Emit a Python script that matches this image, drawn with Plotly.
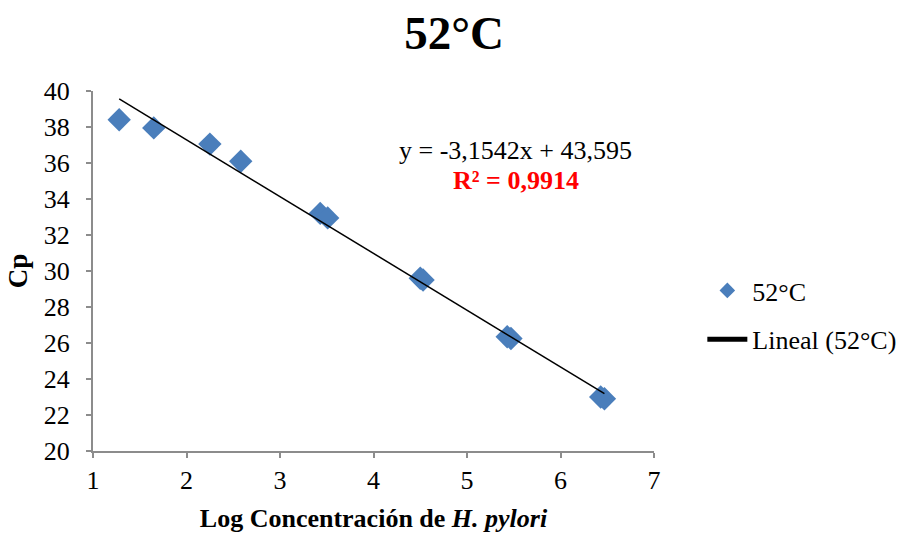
import plotly.graph_objects as go

# Data
log_conc = [1.28, 1.65, 2.25, 2.58, 3.43, 3.51, 4.50, 4.53, 5.43, 5.47, 6.43, 6.47]
cp_values = [38.4, 37.95, 37.05, 36.1, 33.2, 32.95, 29.6, 29.5, 26.35, 26.25, 23.0, 22.9]
slope = -3.1542
intercept = 43.595
eq_text = "y = -3,1542x + 43,595"
r2_text = "R² = 0,9914"
series_name = "52°C"
trend_name = "Lineal (52°C)"
x_ticks = [1, 2, 3, 4, 5, 6, 7]
y_ticks = [20, 22, 24, 26, 28, 30, 32, 34, 36, 38, 40]

FONT = "Liberation Serif, Times New Roman, serif"

x_min, x_max = min(log_conc), max(log_conc)
trend_x = [x_min, x_max]
trend_y = [slope * v + intercept for v in trend_x]

fig = go.Figure()
fig.add_trace(go.Scatter(
    x=log_conc, y=cp_values, mode="markers", name=series_name, legendgroup="a",
    marker=dict(symbol="diamond", size=18, color="#4a7ebb", line=dict(width=0)),
))
fig.add_trace(go.Scatter(
    x=trend_x, y=trend_y, mode="lines", name=trend_name, legendgroup="b",
    line=dict(color="black", width=1.5),
))

fig.add_annotation(x=5.52, y=36.7, xref="x", yref="y", text=eq_text, showarrow=False,
                   font=dict(family=FONT, size=26, color="black"), yanchor="middle")
fig.add_annotation(x=5.52, y=35.05, xref="x", yref="y", text="<b>" + r2_text + "</b>", showarrow=False,
                   font=dict(family=FONT, size=26, color="#ff0000"), yanchor="middle")

fig.update_layout(
    width=908, height=533,
    margin=dict(l=93, r=254, t=91, b=82, autoexpand=False),
    paper_bgcolor="white", plot_bgcolor="white",
    font=dict(family=FONT, size=26, color="black"),
    title=dict(text="<b>52°C</b>", x=0.5, xref="container", xanchor="center",
               y=0.938, yref="container", yanchor="middle",
               font=dict(family=FONT, size=47, color="black")),
    showlegend=True,
    legend=dict(x=0.7735, y=0.409, xref="container", yref="container",
                xanchor="left", yanchor="middle",
                font=dict(family=FONT, size=26), tracegroupgap=12, traceorder="grouped",
                itemsizing="constant", itemwidth=40, bgcolor="rgba(0,0,0,0)"),
    xaxis=dict(range=[1, 7], tickvals=x_ticks, showgrid=False, zeroline=False,
               showline=True, linecolor="#8c8c8c", linewidth=2,
               ticks="outside", ticklen=5, tickcolor="#8c8c8c", tickwidth=1.5,
               ticklabelstandoff=0, automargin=False,
               tickfont=dict(family=FONT, size=26),
               title=dict(text="<b>Log Concentración de <i>H. pylori</i></b>",
                          font=dict(family=FONT, size=26), standoff=16)),
    yaxis=dict(range=[20, 40], tickvals=y_ticks, showgrid=False, zeroline=False,
               showline=True, linecolor="#8c8c8c", linewidth=2,
               ticks="outside", ticklen=5, tickcolor="#8c8c8c", tickwidth=1.5,
               ticklabelstandoff=11, automargin=False,
               tickfont=dict(family=FONT, size=26),
               title=dict(text="<b>Cp</b>", font=dict(family=FONT, size=27), standoff=8)),
)

fig.write_html("out.html")
